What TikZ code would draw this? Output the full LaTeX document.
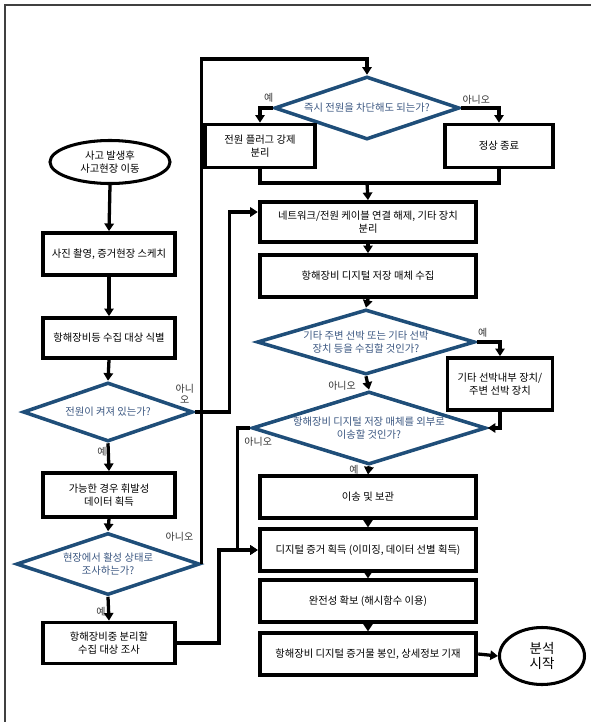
\documentclass[tikz,border=0pt]{standalone}
\usepackage{fontspec}
\setmainfont{Noto Sans CJK KR}
\usepackage{tikz}
\usetikzlibrary{arrows.meta,
    positioning,
    shapes.geometric}
\definecolor{dblue}{RGB}{31,78,121}
\definecolor{tblue}{RGB}{60,88,130}

\begin{document}
\begin{tikzpicture}[x=0.03cm, y=-0.03cm,
                  font=\fontsize{8.8}{10.5}\selectfont,
                  box/.style = {draw, line width=3.2pt, align=center, inner sep=1pt},
                  lbox/.style = {box, minimum width=3.96cm, minimum height=1.26cm},
                  wbox/.style = {box, minimum width=6.5cm, minimum height=1.24cm},
                  decide/.style = {diamond, draw=dblue, line width=3pt, fill=white,
                                   text=tblue, align=center, inner sep=-2pt, aspect=3},
                  term/.style = {ellipse, draw, line width=2.6pt, align=center, inner sep=0pt},
                  arr/.style = {-{Triangle[length=6.5pt, width=8pt]}, line width=2.8pt},
                  line/.style = {line width=2.8pt},
                  lbl/.style = {text=black!80, inner sep=0pt, align=center,
                                font=\fontsize{8.5}{9.5}\selectfont}
                  ]
\useasboundingbox (0,0) rectangle (591,722);
\draw[line width=1pt, black!75] (5,722) -- (5,5) -- (591,5);
% left column
\node (start) [term, minimum width=3.6cm, minimum height=1.29cm] at (110,162) {사고 발생후\\사고현장 이동};
\node (b1) [lbox] at (109,254) {사진 촬영, 증거현장 스케치};
\node (b2) [lbox, minimum height=1.2cm] at (109,338) {항해장비등 수집 대상 식별};
\node (d1) [decide, minimum width=5.1cm, minimum height=1.77cm] at (108,412) {전원이 켜져 있는가?};
\node (b3) [lbox, minimum height=1.32cm] at (109,495) {가능한 경우 휘발성\\데이터 획득};
\node (d2) [decide, minimum width=5.5cm, minimum height=1.86cm] at (108,564) {현장에서 활성 상태로\\조사하는가?};
\node (b4) [lbox, minimum height=1.23cm] at (109,643) {항해장비중 분리할\\수집 대상 조사};
% right column
\node (dt) [decide, minimum width=5.55cm, minimum height=1.89cm] at (367,108) {즉시 전원을 차단해도 되는가?};
\node (bl) [box, minimum width=3.3cm, minimum height=1.29cm] at (260,146) {전원 플러그 강제\\분리};
\node (br) [box, minimum width=3.24cm, minimum height=1.29cm] at (499,146) {정상 종료};
\node (b5) [wbox, minimum height=1.2cm] at (368,222) {네트워크/전원 케이블 연결 해제, 기타 장치\\분리};
\node (b6) [wbox, minimum height=1.26cm] at (368,276) {항해장비 디지털 저장 매체 수집};
\node (d3) [decide, minimum width=6.54cm, minimum height=1.95cm] at (366,342) {기타 주변 선박 또는 기타 선박\\장치 등을 수집할 것인가?};
\node (b7) [box, minimum width=3.15cm, minimum height=1.56cm] at (500,384) {기타 선박내부 장치/\\주변 선박 장치};
\node (d4) [decide, minimum width=7.02cm, minimum height=2.19cm] at (369,428) {항해장비 디지털 저장 매체를 외부로\\이송할 것인가?};
\node (b8) [wbox] at (368,497) {이송 및 보관};
\node (b9) [wbox] at (368,550) {디지털 증거 획득 (이미징, 데이터 선별 획득)};
\node (b10) [wbox] at (368,601) {완전성 확보 (해시함수 이용)};
\node (b11) [wbox] at (368,654) {항해장비 디지털 증거물 봉인, 상세정보 기재};
\node (fin) [term, minimum width=2.55cm, minimum height=1.71cm,
             font=\fontsize{11.5}{13.5}\selectfont] at (542,656) {분석\\시작};
\coordinate (mrg) at (367,183);
% straight arrows
\foreach \a/\b in {start/b1, b1/b2, b2/d1, d1/b3, b3/d2, d2/b4,
                   b5/b6, b6/d3, d3/d4, d4/b8, b8/b9, b9/b10, b10/b11}
  \draw[arr] (\a.south) -- (\b.north);
\draw[arr] (b11.east) -- (fin.west);
% branches
\draw[arr] (d1.east) -- ++(35,0) |- ([yshift=0.3cm]b5.west);
\draw[arr] (d2.east) -- ++(0,-505) -| (dt.north);
\draw[arr] (dt.west) -| (bl.north);
\draw[arr] (dt.east) -| (br.north);
\draw[line] (bl.south) |- (mrg) -| (br.south);
\draw[arr] (mrg) -- (b5.north);
\draw[arr] (d3.east) -| (b7.north);
\draw[arr] (b7.south) |- (d4.east);
\draw[arr] (d4.west) -- ++(-13,0) |- (b9.west);
\draw[arr] (b4.east) -- ++(42,0) |- (b9.west);
% labels
\node[lbl] at ([shift={(-10,-18)}]d1.east) {아니\\오};
\node[lbl] at ([shift={(-6,9)}]d1.south) {예};
\node[lbl] at ([shift={(-22,-27)}]d2.east) {아니오};
\node[lbl] at ([shift={(-7,15)}]d2.south) {예};
\node[lbl] at ([shift={(-4,-10)}]dt.west) {예};
\node[lbl] at ([shift={(15,-8)}]dt.east) {아니오};
\node[lbl] at ([shift={(6,-9)}]d3.east) {예};
\node[lbl] at ([shift={(-24,10)}]d3.south) {아니오};
\node[lbl] at ([shift={(8,14)}]d4.west) {아니오};
\node[lbl] at ([shift={(-15,4)}]d4.south) {예};
\end{tikzpicture}
\end{document}
